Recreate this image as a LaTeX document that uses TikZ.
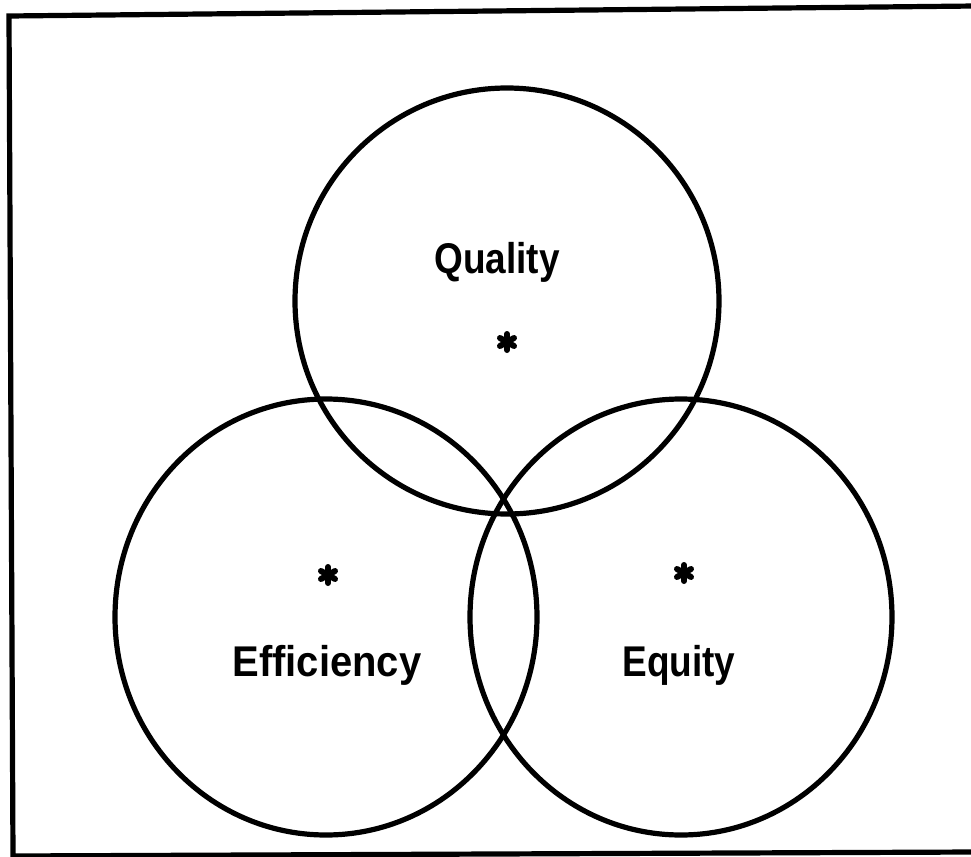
\documentclass[tikz,border=0pt]{standalone}
\usepackage{fontspec}
\setmainfont{Liberation Sans}
\usetikzlibrary{calc}
\begin{document}
\begin{tikzpicture}[x=0.5pt,y=-0.5pt,
  ring/.style={line width=2.6pt},
  framing/.style={line width=2.6pt},
  label/.style={font=\bfseries\fontsize{21.5}{24}\selectfont, inner sep=0pt, anchor=base},
  star/.style={line width=3pt, line cap=round}]
\useasboundingbox (0,0) rectangle (971,857);

% outer frame, open on the right
\coordinate (tl) at (9,16);
\coordinate (tr) at (975,6);
\coordinate (bl) at (13,856);
\coordinate (br) at (975,852);
\draw[framing] (tr) -- (tl) -- (bl) -- (br);

% the three overlapping circles
\coordinate (cq) at (507,301);
\coordinate (cf) at (326,617);
\coordinate (ce) at (681,617);
\draw[ring] (cq) ellipse [x radius=212, y radius=213];
\draw[ring] (cf) ellipse [x radius=211, y radius=218];
\draw[ring] (ce) ellipse [x radius=211, y radius=218];

% labels
\node[label] (quality) at (497,273) {\scalebox{0.86}[1]{Quality}};
\node[label] (efficiency) at (327,676) {\scalebox{0.93}[1]{Efficiency}};
\node[label] (equity) at (679,676) {\scalebox{0.86}[1]{Equity}};

% centre marks
\coordinate (sq) at (507,342);
\coordinate (sf) at (328,575);
\coordinate (se) at (684,573);
\foreach \n in {sq,sf,se} {
  \draw[star] ($(\n)+(0,-8)$) -- ++(0,16);
  \draw[star] ($(\n)+(-7,-4)$) -- ++(14,8);
  \draw[star] ($(\n)+(-7,4)$) -- ++(14,-8);
}
\end{tikzpicture}
\end{document}
